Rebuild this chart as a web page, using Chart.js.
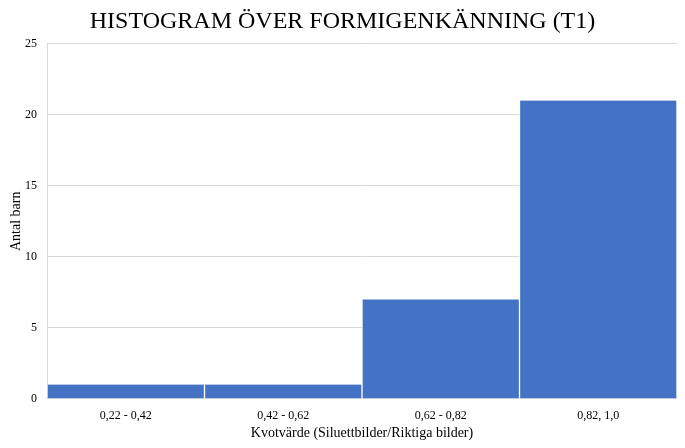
<!DOCTYPE html>
<html>
<head>
<meta charset="utf-8">
<script src="https://cdn.jsdelivr.net/npm/chart.js@4"></script>
<style>
  html, body { margin: 0; padding: 0; background: #fff; }
  #wrap { width: 685px; height: 448px; }
</style>
</head>
<body>
<div id="wrap"><canvas id="chart"></canvas></div>
<script>
const categories = ['0,22 - 0,42', '0,42 - 0,62', '0,62 - 0,82', '0,82, 1,0'];
const counts = [1, 1, 7, 21];
const yTicks = [0, 5, 10, 15, 20, 25];

const serif = "'Liberation Serif', 'Times New Roman', serif";

const ctx = document.getElementById('chart').getContext('2d');
new Chart(ctx, {
    type: 'bar',
    data: {
        labels: categories,
        datasets: [{
            label: 'Antal barn',
            data: counts,
            backgroundColor: '#4472C4',
            borderColor: '#ffffff',
            borderWidth: { left: 1, right: 1, top: 0, bottom: 0 },
            barPercentage: 1,
            categoryPercentage: 1
        }]
    },
    options: {
        responsive: true,
        maintainAspectRatio: false,
        animation: false,
        layout: { padding: { left: 8, right: 8, top: 4, bottom: 6 } },
        plugins: {
            legend: { display: false },
            tooltip: { enabled: false },
            title: {
                display: true,
                text: 'HISTOGRAM ÖVER FORMIGENKÄNNING (T1)',
                color: '#000',
                font: { family: serif, size: 24, weight: 'normal' },
                padding: { top: 3, bottom: 8 }
            }
        },
        scales: {
            x: {
                grid: { display: false },
                border: { display: false },
                ticks: {
                    color: '#000',
                    font: { family: serif, size: 12 },
                    padding: 2
                },
                title: {
                    display: true,
                    text: 'Kvotvärde (Siluettbilder/Riktiga bilder)',
                    color: '#000',
                    font: { family: serif, size: 14 },
                    padding: { top: 0, bottom: 0 }
                }
            },
            y: {
                min: 0,
                max: 25,
                afterBuildTicks: axis => { axis.ticks = yTicks.map(v => ({ value: v })); },
                afterFit: axis => { axis.width = 39; },
                grid: { color: '#d9d9d9', drawTicks: false },
                border: { color: '#d9d9d9' },
                ticks: {
                    color: '#000',
                    font: { family: serif, size: 12 },
                    padding: 10
                },
                title: {
                    display: true,
                    text: 'Antal barn',
                    color: '#000',
                    font: { family: serif, size: 14 },
                    padding: { top: 0, bottom: 0 }
                }
            }
        }
    }
});
</script>
</body>
</html>
